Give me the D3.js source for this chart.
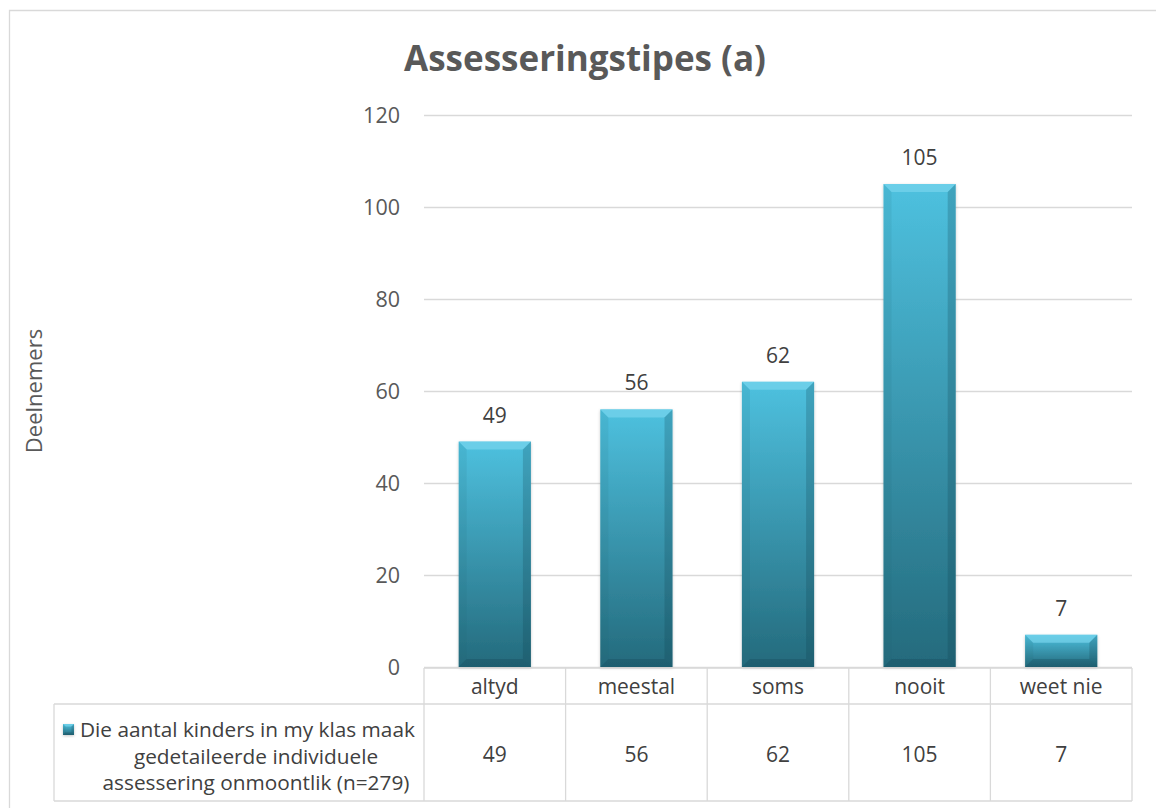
<!DOCTYPE html>
<html><head><meta charset="utf-8">
<script src="https://cdn.jsdelivr.net/npm/d3@7"></script>
<style>
html,body{margin:0;padding:0;background:#fff;}
svg{display:block;font-family:"Open Sans",sans-serif;}
</style></head>
<body>
<svg id="chart" width="1156" height="808"></svg>
<script>
const categories = ["altyd", "meestal", "soms", "nooit", "weet nie"];
const values = [49, 56, 62, 105, 7];
const yTicks = [0, 20, 40, 60, 80, 100, 120];
const title = "Assesseringstipes (a)";
const yLabel = "Deelnemers";
const seriesLines = ["Die aantal kinders in my klas maak", "gedetaileerde individuele", "assessering onmoontlik (n=279)"];

(function () {
const svg = d3.select("#chart");
const pLeft = 424, pRight = 1132, pTop = 115, pBottom = 667;
const tableBottom = 801, headerBottom = 704, legendLeft = 54;
const fs = 21;

// outer border
svg.append("path").attr("d", `M9.5,808 V10.5 H1156`).attr("fill","none").attr("stroke","#d9d9d9").attr("stroke-width",1.3);

const x = d3.scaleBand().domain(categories).range([pLeft, pRight]).paddingInner(0.49).paddingOuter(0.245);
const xCell = d3.scaleBand().domain(categories).range([pLeft, pRight]);
const y = d3.scaleLinear().domain([0, 120]).range([pBottom, pTop]);

// gridlines
svg.append("g").selectAll("line").data(yTicks).join("line")
  .attr("x1", pLeft).attr("x2", pRight)
  .attr("y1", d => Math.round(y(d)) + 0.5).attr("y2", d => Math.round(y(d)) + 0.5)
  .attr("stroke", "#d9d9d9").attr("stroke-width", 1.3);

// y axis labels
const yAxis = d3.axisLeft(y).tickValues(yTicks).tickSize(0).tickPadding(0);
const ga = svg.append("g").attr("transform", `translate(400,0)`).call(yAxis);
ga.select(".domain").remove();
ga.selectAll("text").attr("font-size", 21.5).attr("fill", "#595959").attr("font-family", "Open Sans").attr("dy", "0.36em");

// gradients
const defs = svg.append("defs");
const g1 = defs.append("linearGradient").attr("id","barGrad").attr("x1",0).attr("y1",0).attr("x2",0).attr("y2",1);
g1.append("stop").attr("offset","0%").attr("stop-color","#4ec1df");
g1.append("stop").attr("offset","100%").attr("stop-color","#246a7c");
const shadow = defs.append("filter").attr("id","sh").attr("x","-20%").attr("y","-20%").attr("width","140%").attr("height","140%");
shadow.append("feDropShadow").attr("dx",0).attr("dy",1).attr("stdDeviation",1.5).attr("flood-color","#000").attr("flood-opacity",0.22);

function bevelBar(g, x0, y0, w, h, b) {
  g.append("rect").attr("x", x0).attr("y", y0).attr("width", w).attr("height", h).attr("fill", "url(#barGrad)").attr("filter","url(#sh)");
  const bb = Math.min(b, h/2, w/2);
  g.append("path").attr("d", `M${x0},${y0} H${x0+w} L${x0+w-bb},${y0+bb} H${x0+bb} Z`).attr("fill", "#78d4ec").attr("opacity", 0.7);
  g.append("path").attr("d", `M${x0},${y0} L${x0+bb},${y0+bb} V${y0+h-bb} L${x0},${y0+h} Z`).attr("fill", "#1d5f70").attr("opacity", 0.1);
  g.append("path").attr("d", `M${x0+w},${y0} L${x0+w-bb},${y0+bb} V${y0+h-bb} L${x0+w},${y0+h} Z`).attr("fill", "#0f3d4a").attr("opacity", 0.22);
  g.append("path").attr("d", `M${x0},${y0+h} L${x0+bb},${y0+h-bb} H${x0+w-bb} L${x0+w},${y0+h} Z`).attr("fill", "#0f3d4a").attr("opacity", 0.25);
}

const barsG = svg.append("g");
categories.forEach((c, i) => {
  const g = barsG.append("g");
  bevelBar(g, x(c), y(values[i]), x.bandwidth(), y(0) - y(values[i]), 8);
});

// value labels
svg.append("g").selectAll("text").data(values).join("text")
  .attr("x", (d, i) => x(categories[i]) + x.bandwidth()/2)
  .attr("y", d => y(d) - 19)
  .attr("text-anchor", "middle").attr("font-size", fs).attr("fill", "#404040")
  .text(d => d);

// data table
const tg = svg.append("g").attr("stroke", "#d9d9d9").attr("stroke-width", 1.3).attr("fill", "none");
tg.append("path").attr("d", `M${pLeft},${pBottom+1} V${tableBottom} M${pRight},${pBottom+1} V${tableBottom} M${legendLeft},${headerBottom} H${pRight} M${legendLeft},${tableBottom} H${pRight} M${legendLeft},${headerBottom} V${tableBottom} M${pLeft},${pBottom+1} H${pRight}`);
categories.forEach((c, i) => {
  if (i > 0) tg.append("line").attr("x1", xCell(c)).attr("x2", xCell(c)).attr("y1", pBottom+1).attr("y2", tableBottom);
});

svg.append("g").selectAll("text").data(categories).join("text")
  .attr("x", d => xCell(d) + xCell.bandwidth()/2).attr("y", (pBottom + headerBottom)/2 + 1)
  .attr("dy", "0.36em").attr("text-anchor", "middle").attr("font-size", fs).attr("fill", "#404040")
  .text(d => d);
svg.append("g").selectAll("text").data(values).join("text")
  .attr("x", (d, i) => xCell(categories[i]) + xCell.bandwidth()/2).attr("y", (headerBottom + tableBottom)/2 + 2)
  .attr("dy", "0.36em").attr("text-anchor", "middle").attr("font-size", fs).attr("fill", "#404040")
  .text(d => d);

// legend in table
const lineYs = [730, 757, 783];
svg.append("text").attr("x", 80).attr("y", lineYs[0]).attr("dy", "0.36em")
  .attr("text-anchor", "start").attr("font-size", 20.8).attr("fill", "#404040").text(seriesLines[0]);
[1, 2].forEach(i => {
  svg.append("text").attr("x", 256).attr("y", lineYs[i]).attr("dy", "0.36em")
    .attr("text-anchor", "middle").attr("font-size", 20.8).attr("fill", "#404040").text(seriesLines[i]);
});
const lgIcon = svg.append("g");
bevelBar(lgIcon, 63, 724, 11, 11, 2.5);

// title
svg.append("text").attr("x", 585).attr("y", 71).attr("text-anchor", "middle")
  .attr("font-size", 35).attr("font-weight", "bold").attr("fill", "#595959").text(title);

// y label
svg.append("text").attr("transform", `translate(42,${(pTop+pBottom)/2}) rotate(-90)`)
  .attr("text-anchor", "middle").attr("font-size", 22).attr("fill", "#595959").text(yLabel);
})();
</script>
</body></html>
